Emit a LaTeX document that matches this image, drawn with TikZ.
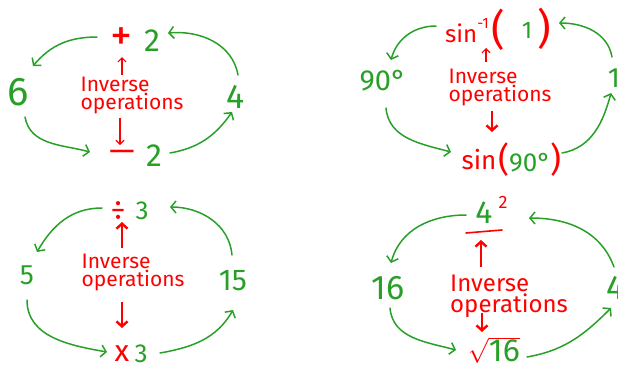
\documentclass[tikz,border=0pt]{standalone}
\usepackage{fontspec}
\setmainfont{Fira Sans}
\usetikzlibrary{arrows.meta}
\definecolor{grn}{RGB}{40,160,40}
\definecolor{rd}{RGB}{255,0,0}
\newcommand{\fs}[1]{\fontsize{#1}{#1}\selectfont}
\tikzset{
  num/.style={text=grn, inner sep=0pt},
  opr/.style={text=rd, inner sep=0pt},
  lbl/.style={text=rd, align=left, inner sep=0pt, font=\fontsize{21}{18}\selectfont},
  garrow/.style={draw=grn, line width=1.5pt, line cap=round, -{Straight Barb[length=5pt,width=12pt]}},
  rthin/.style={draw=rd, line width=1.2pt, -{Straight Barb[length=4pt,width=8pt]}},
  rthick/.style={draw=rd, line width=2.4pt, -{Straight Barb[length=5pt,width=11pt]}}
}
\begin{document}
\begin{tikzpicture}[x=1pt,y=-1pt]
\useasboundingbox (0,0) rectangle (618,370);
% ---------- panel 1 ----------
\node[opr, font=\fs{44}] (op1t) at (121,39) {+};
\node[num, font=\fs{32}] (n1t) at (152,41) {2};
\node[num, font=\fs{40}] (l1) at (18,92) {6};
\node[num, font=\fs{34}] (r1) at (236,97) {4};
\node[opr, font=\fs{32}] (op1b) at (122,156) {—};
\node[num, font=\fs{32}] (n1b) at (154,156) {2};
\node[lbl] (c1) at (132,95) {Inverse\\operations};
\draw[garrow] ([shift={(-24,-2)}]op1t.center) to[out=180,in=50] ([shift={(15,-26)}]l1.center);
\draw[garrow] ([shift={(7,25)}]l1.center) to[out=-80,in=165] ([shift={(-32,-4)}]op1b.center);
\draw[garrow] ([shift={(16,-3)}]n1b.center) to[out=10,in=235] ([shift={(-4,15)}]r1.center);
\draw[garrow] ([shift={(2,-22)}]r1.center) to[out=100,in=5] ([shift={(16,-8)}]n1t.center);
\draw[rthin] ([shift={(-10,-20)}]c1.center) -- ([shift={(1,18)}]op1t.center);
\draw[rthin] ([shift={(-12,23)}]c1.center) -- ([shift={(-2,-11)}]op1b.center);
% ---------- panel 2 ----------
\node[opr, font=\fs{24}] (s2t) at (467,31) {sin\raisebox{1.1ex}{\fs{15}-1}};
\node[opr, font=\fs{42}] (lp2t) at (498,30) {(};
\node[num, font=\fs{24}] (n2t) at (527,30) {1};
\node[opr, font=\fs{42}] (rp2t) at (544,29) {)};
\node[num, font=\fs{29}] (l2) at (383,81) {90°};
\node[num, font=\fs{28}] (r2) at (614,78) {1};
\node[opr, font=\fs{26}] (s2b) at (479,160) {sin};
\node[num, font=\fs{26}] (b2) at (530,160) {{\color{rd}\fs{34}(}90°{\color{rd}\fs{34})}};
\node[lbl] (c2) at (500,87) {Inverse\\operations};
\draw[garrow] ([shift={(-31,-5)}]s2t.center) to[out=180,in=75] ([shift={(8,-21)}]l2.center);
\draw[garrow] ([shift={(3,27)}]l2.center) to[out=-85,in=165] ([shift={(-28,-8)}]s2b.center);
\draw[garrow] ([shift={(32,-7)}]b2.center) to[out=10,in=255] ([shift={(-3,15)}]r2.center);
\draw[garrow] ([shift={(-2,-21)}]r2.center) to[out=100,in=0] ([shift={(15,-6)}]rp2t.center);
\draw[rthin] ([shift={(-14,-25)}]c2.center) -- ([shift={(19,17)}]s2t.center);
\draw[rthick] ([shift={(-8,24)}]c2.center) -- ([shift={(13,-28)}]s2b.center);
% ---------- panel 3 ----------
\node[opr, font=\fs{30}] (op3t) at (118,211) {÷};
\node[num, font=\fs{26}] (n3t) at (142,211) {3};
\node[num, font=\fs{28}] (l3) at (27,275) {5};
\node[num, font=\fs{30}] (r3) at (233,281) {15};
\node[opr, font=\fs{30}] (op3b) at (122,354) {x};
\node[num, font=\fs{26}] (n3b) at (141,354) {3};
\node[lbl] (c3) at (133,272) {Inverse\\operations};
\draw[garrow] ([shift={(-16,-3)}]op3t.center) to[out=180,in=60] ([shift={(10,-23)}]l3.center);
\draw[garrow] ([shift={(0,25)}]l3.center) to[out=-90,in=170] ([shift={(-15,-2)}]op3b.center);
\draw[garrow] ([shift={(19,-1)}]n3b.center) to[out=10,in=240] ([shift={(0,29)}]r3.center);
\draw[garrow] ([shift={(-1,-26)}]r3.center) to[out=95,in=0] ([shift={(28,-4)}]n3t.center);
\draw[rthick] ([shift={(-11,-24)}]c3.center) -- ([shift={(4,11)}]op3t.center);
\draw[rthick] ([shift={(-11,30)}]c3.center) -- ([shift={(0,-26)}]op3b.center);
% ---------- panel 4 ----------
\node[num, font=\fs{32}] (n4t) at (484,213) {4};
\node[opr, font=\fs{18}] (sup4) at (503,202) {2};
\draw[rd, line width=1.6pt, line cap=round] ([shift={(-18,20)}]n4t.center) -- ([shift={(18,17)}]n4t.center);
\node[num, font=\fs{34}] (l4) at (388,288) {16};
\node[num, font=\fs{34}] (r4) at (616,288) {4};
\node[opr, font=\fs{32}] (b4) at (494,350) {$\sqrt{\mbox{\color{grn}16}}$};
\node[lbl, font=\fontsize{24}{21}\selectfont] (c4) at (509,296) {Inverse\\operations};
\draw[garrow] ([shift={(-18,2)}]n4t.center) to[out=180,in=75] ([shift={(3,-25)}]l4.center);
\draw[garrow] ([shift={(2,20)}]l4.center) to[out=-85,in=165] ([shift={(-38,0)}]b4.center);
\draw[garrow] ([shift={(33,7)}]b4.center) to[out=10,in=225] ([shift={(-5,20)}]r4.center);
\draw[garrow] ([shift={(-2,-21)}]r4.center) to[out=110,in=0] ([shift={(45,5)}]n4t.center);
\draw[rthick] ([shift={(-28,-29)}]c4.center) -- ([shift={(-3,27)}]n4t.center);
\draw[rthick] ([shift={(-27,17)}]c4.center) -- ([shift={(-12,-18)}]b4.center);
\end{tikzpicture}
\end{document}
